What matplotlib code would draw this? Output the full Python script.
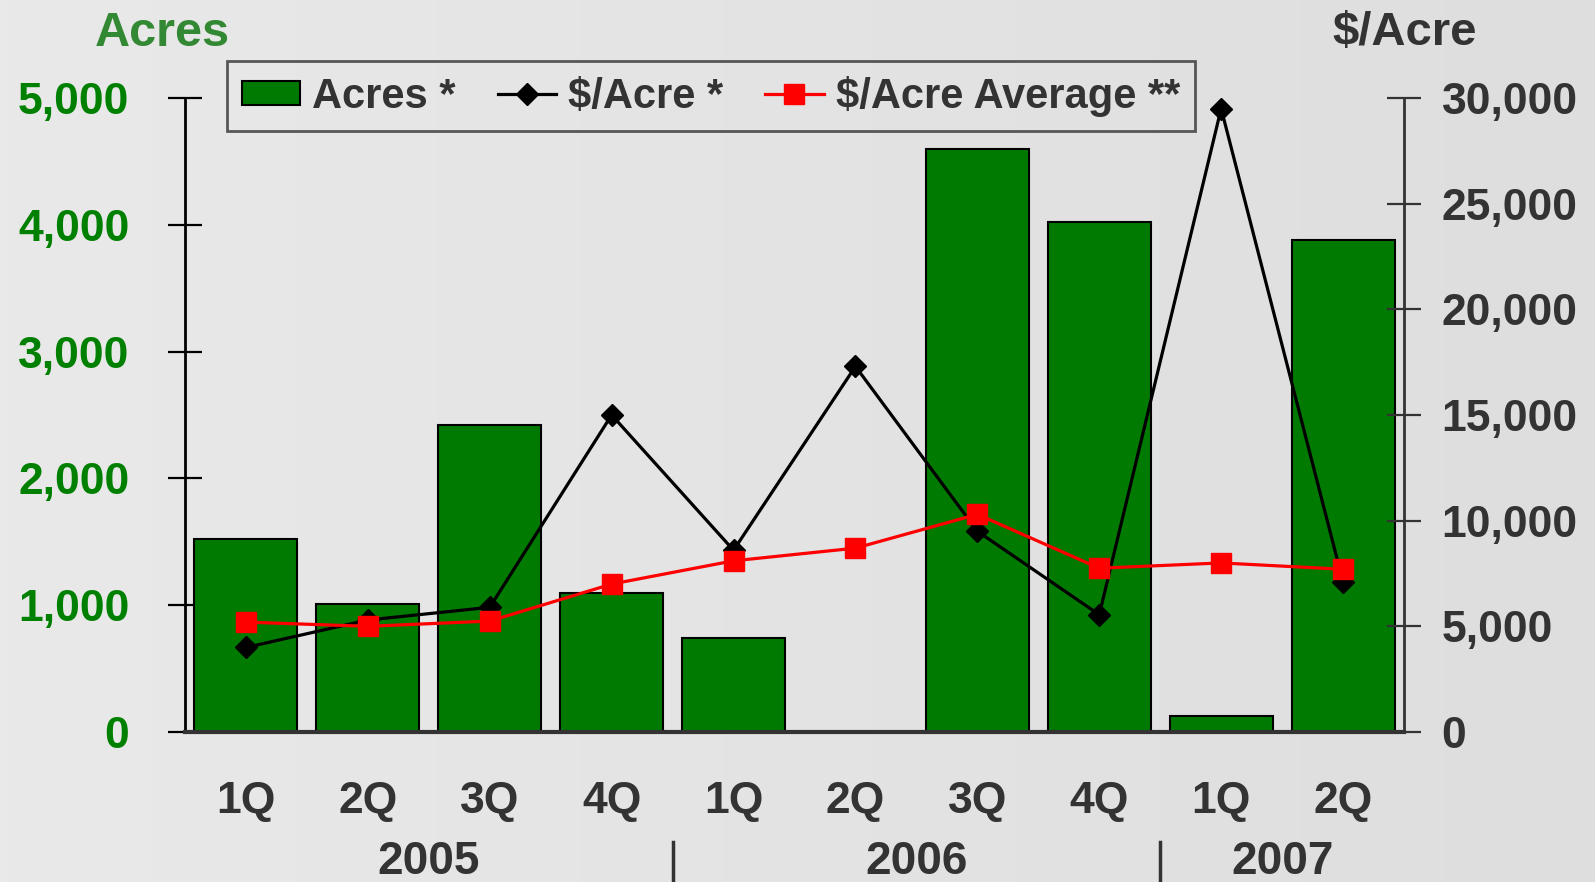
import numpy as np
import matplotlib.pyplot as plt
import matplotlib.transforms as mtransforms
from matplotlib.colors import LinearSegmentedColormap
from matplotlib.patches import Patch
from matplotlib.lines import Line2D

# quarterly land sales
quarters = ['1Q', '2Q', '3Q', '4Q', '1Q', '2Q', '3Q', '4Q', '1Q', '2Q']
years = ['2005', '2006', '2007']
quarters_per_year = [4, 4, 2]
acres = [1520, 1010, 2420, 1100, 740, 0, 4600, 4020, 130, 3880]
price = [4000, 5300, 5900, 15000, 8600, 17300, 9500, 5550, 29500, 7100]
price_avg = [5200, 5000, 5250, 7000, 8100, 8700, 10300, 7750, 8000, 7700]
acre_ticks = [0, 1000, 2000, 3000, 4000, 5000]
price_ticks = [0, 5000, 10000, 15000, 20000, 25000, 30000]

plt.rcParams['font.family'] = ['Liberation Sans', 'DejaVu Sans']
plt.rcParams['font.weight'] = 'bold'

GREEN = '#007a00'
DARK = '#333333'

fig = plt.figure(figsize=(15.95, 8.82), dpi=100)

# soft grey backdrop
bg = fig.add_axes([0, 0, 1, 1], zorder=-10)
grad = np.linspace(0, 1, 512).reshape(1, -1)
bg.imshow(grad, aspect='auto', interpolation='bilinear',
          cmap=LinearSegmentedColormap.from_list('bg', ['#e9e9e9', '#dedede']),
          extent=[0, 1, 0, 1])
bg.axis('off')

ax = fig.add_axes([185 / 1595, 150 / 882, 1219 / 1595, 634 / 882])
ax.patch.set_alpha(0)
x = np.arange(len(quarters))
ax.bar(x, acres, width=0.845, color=GREEN, edgecolor='black', linewidth=1.5, zorder=2)
ax.set_xlim(-0.5, len(quarters) - 0.5)
ax.set_ylim(0, 5000)
ax.set_yticks(acre_ticks)
ax.set_yticklabels([f'{v:,}' for v in acre_ticks])
ax.set_xticks(x)
ax.set_xticklabels(quarters)
ax.tick_params(axis='y', direction='inout', length=24, width=1.6, color='black',
               labelsize=32, labelcolor='#008000', pad=28)
ax.tick_params(axis='x', length=0, labelsize=32, labelcolor=DARK, pad=35)
for s in ['top', 'right']:
    ax.spines[s].set_visible(False)
ax.spines['left'].set_linewidth(2)
ax.spines['bottom'].set_linewidth(3)
ax.spines['bottom'].set_color(DARK)

ax2 = ax.twinx()
ax2.plot(x, price, color='black', lw=2.3, marker='D', ms=11, zorder=3)
ax2.plot(x, price_avg, color='red', lw=2.3, marker='s', ms=14, zorder=4)
ax2.set_ylim(0, 30000)
ax2.set_yticks(price_ticks)
ax2.set_yticklabels([f'{v:,}' for v in price_ticks])
ax2.tick_params(axis='y', direction='inout', length=24, width=1.6, color=DARK,
                labelsize=32, labelcolor=DARK, pad=15)
for s in ['top', 'left', 'bottom']:
    ax2.spines[s].set_visible(False)
ax2.spines['right'].set_linewidth(2)
ax2.spines['right'].set_color(DARK)

# axis titles
fig.text(162 / 1595, 1 - 33 / 882, 'Acres', color='#338833', fontsize=35,
         ha='center', va='center')
fig.text(1405 / 1595, 1 - 33 / 882, '$/Acre', color=DARK, fontsize=34,
         ha='center', va='center')

# year labels under the quarters, with separators between years
trans = mtransforms.blended_transform_factory(ax.transData, fig.transFigure)
edges = np.cumsum([0] + quarters_per_year) - 0.5
for yr, lo, hi in zip(years, edges[:-1], edges[1:]):
    ax.text((lo + hi) / 2, 0.009, yr, transform=trans, ha='center', va='baseline',
            fontsize=33, color=DARK, clip_on=False)
for e in edges[1:-1]:
    ax.plot([e, e], [0.0, 0.045], transform=trans, color=DARK, lw=2.5, clip_on=False)

handles = [
    Patch(facecolor=GREEN, edgecolor='black', linewidth=1.5),
    Line2D([], [], color='black', lw=2.3, marker='D', ms=11),
    Line2D([], [], color='red', lw=2.3, marker='s', ms=14),
]
leg = fig.legend(handles, ['Acres *', '$/Acre *', '$/Acre Average **'],
                 loc='upper left', bbox_to_anchor=(227 / 1595, 1 - 61 / 882),
                 ncol=3, fontsize=30, frameon=True, fancybox=False,
                 handlelength=1.4, handleheight=0.5, handletextpad=0.3,
                 columnspacing=1.0, borderpad=0.35, borderaxespad=0)
leg.get_frame().set_edgecolor(DARK)
leg.get_frame().set_linewidth(2)
leg.get_frame().set_facecolor('none')
for t in leg.get_texts():
    t.set_color(DARK)

fig.savefig('out.png', dpi=100)
